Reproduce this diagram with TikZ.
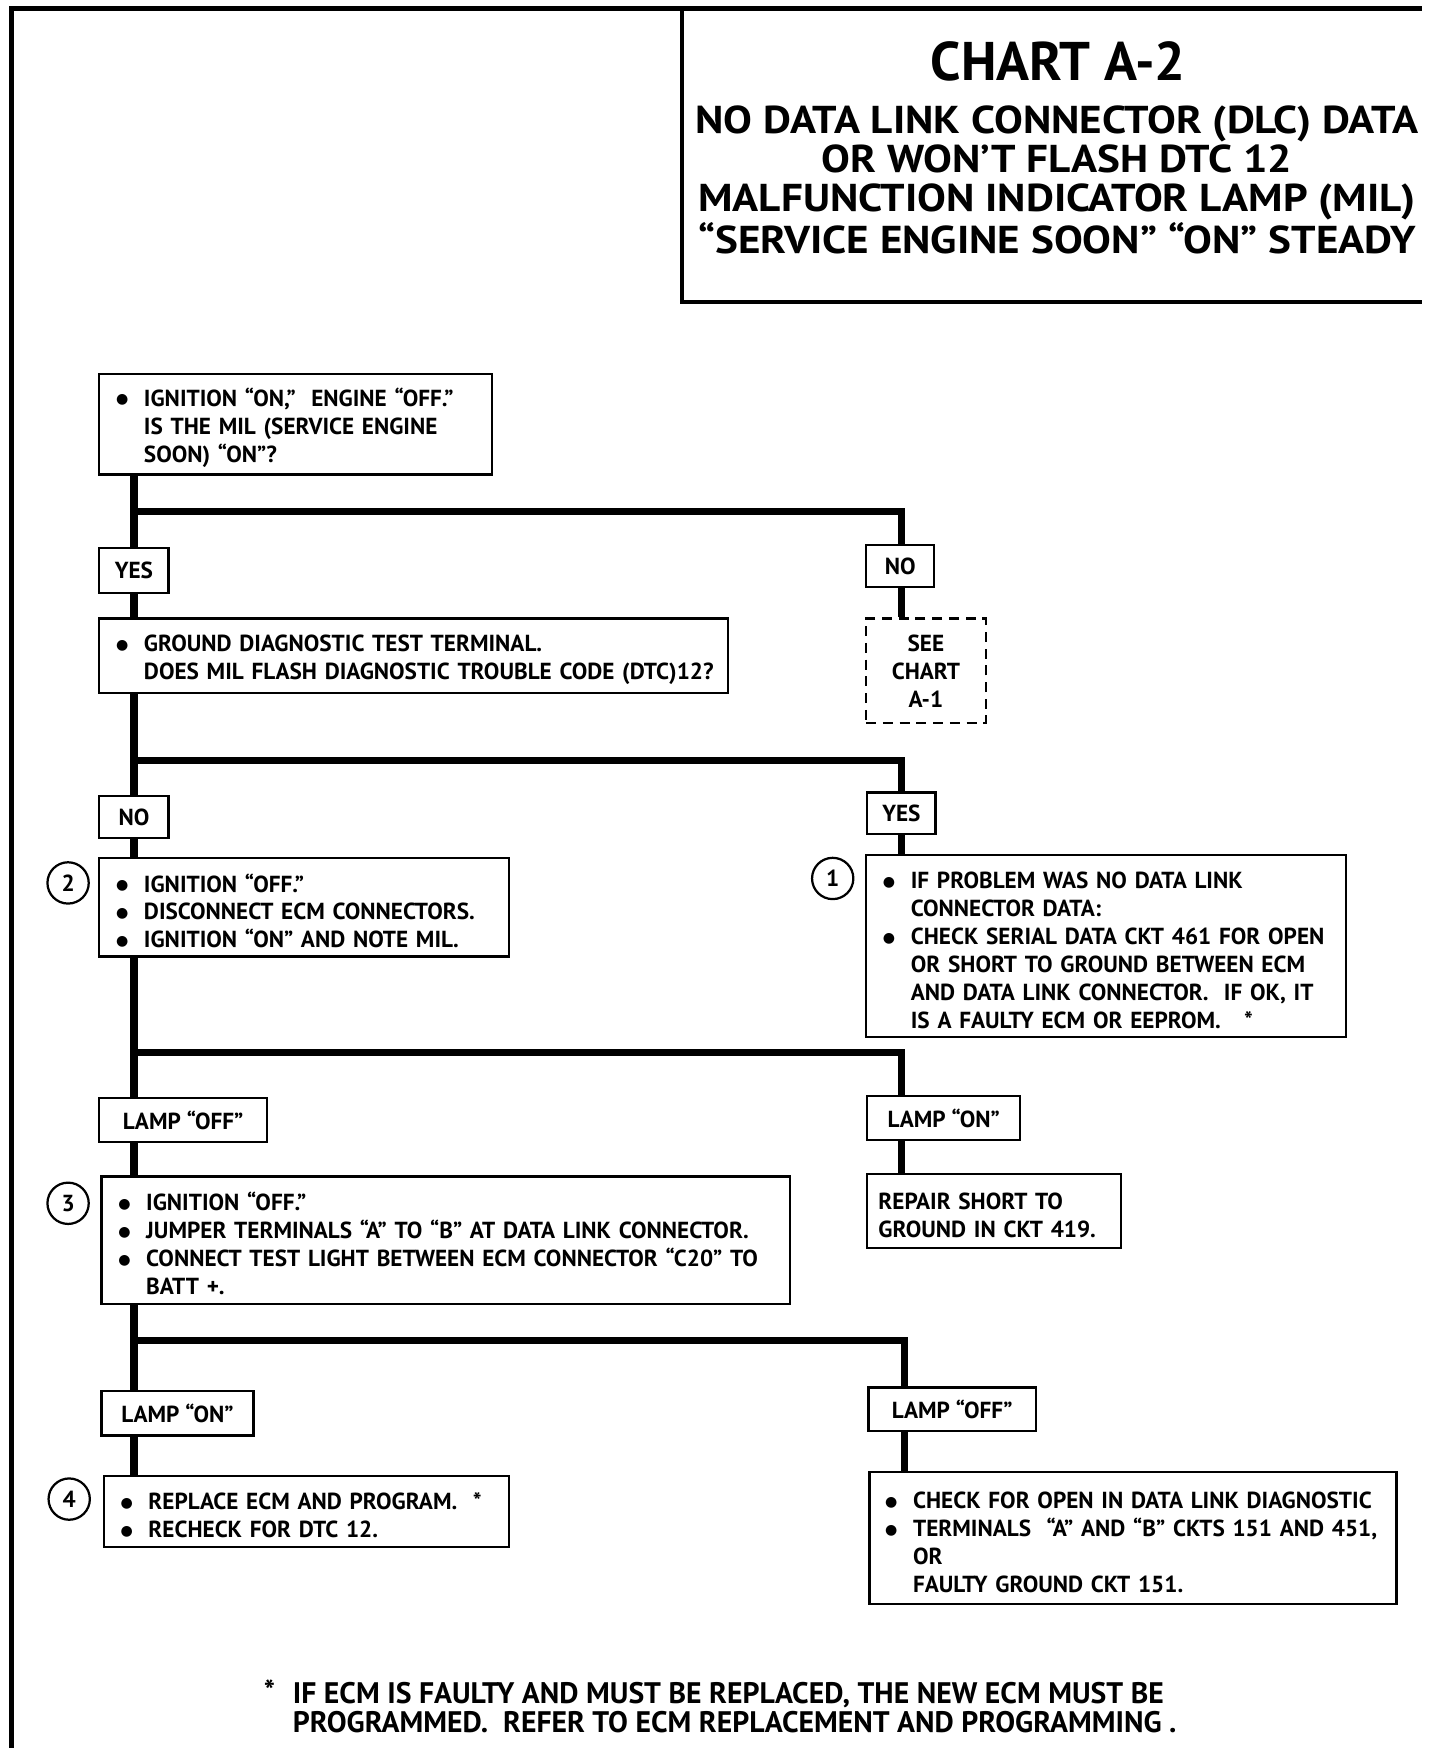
\documentclass[tikz,border=0pt]{standalone}
\usepackage{fontspec}
\setmainfont{PT Sans}
\newfontfamily\dvs{DejaVu Sans}
\usetikzlibrary{calc}
\newcommand\bu{\makebox[12.5pt][l]{\raisebox{1.1pt}{\dvs\fontsize{6.3}{6}\selectfont ●}}}
\newcommand\hind{\hspace*{12.5pt}}
\newcommand\tp{\rule{0pt}{11.3pt}}
\begin{document}
\begin{tikzpicture}[x=0.5pt,y=-0.5pt,
  bodyf/.style={font=\fontsize{10.4}{12.5}\selectfont\bfseries},
  stepbox/.style={draw, line width=1pt, anchor=north west, inner xsep=7.5pt, inner ysep=0pt, align=left, bodyf},
  lbl/.style={draw, line width=1pt, anchor=north west, inner sep=0pt, bodyf},
  num/.style={draw, circle, line width=1pt, minimum size=18.5pt, inner sep=0pt, bodyf},
  trunk/.style={line width=3.2pt},
  foot/.style={font=\fontsize{13.3}{13}\selectfont\bfseries, inner sep=0pt}
]
\useasboundingbox (0,0) rectangle (1290,1566);
% frame
\draw[line width=2.2pt] (10,1566) -- (10,8) -- (1274,8);
\draw[line width=1.8pt] (611,8) -- (611,271) -- (1274,271);
\node[font=\fontsize{24.4}{24}\selectfont\bfseries, inner sep=0pt] (title) at (948,55) {CHART A-2};
\node[font=\fontsize{17.4}{17.6}\selectfont\bfseries\addfontfeature{FakeStretch=1.11}, align=center, inner sep=0pt] (sub) at (947,161)
  {NO DATA LINK CONNECTOR (DLC) DATA\\OR WON’T FLASH DTC 12\\MALFUNCTION INDICATOR LAMP (MIL)\\“SERVICE ENGINE SOON” “ON” STEADY};

% boxes
\node[stepbox, text width=161pt, minimum height=45pt] (A) at (88,334)
  {\tp\bu IGNITION “ON,”\ \ ENGINE “OFF.”\\\hind IS THE MIL (SERVICE ENGINE\\\hind SOON) “ON”?};
\node[lbl, minimum width=31pt, minimum height=20pt] (Y1) at (88,490) {YES};
\node[lbl, minimum width=30.5pt, minimum height=19pt] (N1) at (775,487) {NO};
\node[draw, dash pattern=on 4.5pt off 3pt, line width=1pt, anchor=north west, minimum width=53.5pt, minimum height=47pt, align=center, inner sep=0pt, bodyf] (SEE) at (775,553) {SEE\\CHART\\A-1};
\node[stepbox, text width=266.5pt, minimum height=33.5pt] (B) at (88,553)
  {\tp\bu GROUND DIAGNOSTIC TEST TERMINAL.\\\hind\mbox{DOES MIL FLASH DIAGNOSTIC TROUBLE CODE (DTC)12?}};
\node[lbl, minimum width=31pt, minimum height=19pt] (N2) at (88,712) {NO};
\node[lbl, minimum width=30.5pt, minimum height=18.5pt] (Y2) at (776,709) {YES};
\node[stepbox, text width=168.5pt, minimum height=44pt] (C) at (88,768)
  {\tp\bu IGNITION “OFF.”\\\bu DISCONNECT ECM CONNECTORS.\\\bu IGNITION “ON” AND NOTE MIL.};
\node[num] (n2) at (61,791) {2};
\node[stepbox, text width=200pt, minimum height=81.5pt] (D) at (775,765)
  {\tp\bu IF PROBLEM WAS NO DATA LINK\\\hind CONNECTOR DATA:\\\bu \mbox{CHECK SERIAL DATA CKT 461 FOR OPEN}\\\hind OR SHORT TO GROUND BETWEEN ECM\\\hind AND DATA LINK CONNECTOR.\ \ IF OK, IT\\\hind IS A FAULTY ECM OR EEPROM.\quad *};
\node[num] (n1) at (746,787) {1};
\node[lbl, minimum width=75pt, minimum height=19.5pt] (LF1) at (88,983) {LAMP “OFF”};
\node[lbl, minimum width=68.5pt, minimum height=19.5pt] (LN1) at (776,981) {LAMP “ON”};
\node[stepbox, text width=293.5pt, minimum height=57pt] (E) at (90,1053)
  {\tp\bu IGNITION “OFF.”\\\bu \mbox{JUMPER TERMINALS “A” TO “B” AT DATA LINK CONNECTOR.}\\\bu \mbox{CONNECT TEST LIGHT BETWEEN ECM CONNECTOR “C20” TO}\\\hind BATT +.};
\node[num] (n3) at (61,1078) {3};
\node[stepbox, inner xsep=5pt, text width=103.5pt, minimum height=33pt] (F) at (776,1051)
  {\tp REPAIR SHORT TO\\GROUND IN CKT 419.};
\node[lbl, minimum width=68pt, minimum height=20pt] (LN2) at (90,1245) {LAMP “ON”};
\node[lbl, minimum width=75pt, minimum height=19.5pt] (LF2) at (777,1242) {LAMP “OFF”};
\node[stepbox, text width=166.5pt, minimum height=32pt] (G) at (92,1321)
  {\tp\bu REPLACE ECM AND PROGRAM.\ \ *\\\bu RECHECK FOR DTC 12.};
\node[num] (n4) at (62,1343) {4};
\node[stepbox, inner xsep=7pt, text width=222pt, minimum height=59pt] (H) at (778,1318)
  {\tp\bu \mbox{CHECK FOR OPEN IN DATA LINK DIAGNOSTIC}\\\bu \mbox{TERMINALS\ \ “A” AND “B” CKTS 151 AND 451,}\\\hind OR\\\hind FAULTY GROUND CKT 151.};

% junctions
\coordinate (j1) at (120,458); \coordinate (k1) at (808,458);
\coordinate (j2) at (120,681); \coordinate (k2) at (808,681);
\coordinate (j3) at (120,943); \coordinate (k3) at (808,943);
\coordinate (j4) at (120,1201); \coordinate (k4) at (810,1201);

\draw[trunk] (A.south -| j1) -- (Y1.north -| j1);
\draw[trunk] (j1) -- (k1) -- (N1.north -| k1);
\draw[trunk] (Y1.south -| j1) -- (B.north -| j1);
\draw[trunk] (N1.south -| k1) -- (SEE.north -| k1);
\draw[trunk] (B.south -| j2) -- (N2.north -| j2);
\draw[trunk] (j2) -- (k2) -- (Y2.north -| k2);
\draw[trunk] (N2.south -| j2) -- (C.north -| j2);
\draw[trunk] (Y2.south -| k2) -- (D.north -| k2);
\draw[trunk] (C.south -| j3) -- (LF1.north -| j3);
\draw[trunk] (j3) -- (k3) -- (LN1.north -| k3);
\draw[trunk] (LF1.south -| j3) -- (E.north -| j3);
\draw[trunk] (LN1.south -| k3) -- (F.north -| k3);
\draw[trunk] (E.south -| j4) -- (LN2.north -| j4);
\draw[trunk] (j4) -- (k4) -- (LF2.north -| k4);
\draw[trunk] (LN2.south -| j4) -- (G.north -| j4);
\draw[trunk] (LF2.south -| k4) -- (H.north -| k4);

% footnote
\node[foot, anchor=base west] (star) at (236,1524) {*};
\node[foot, anchor=base west] (f1) at (262,1526) {IF ECM IS FAULTY AND MUST BE REPLACED, THE NEW ECM MUST BE};
\node[foot, anchor=base west] (f2) at (262,1552) {PROGRAMMED.\ \ REFER TO ECM REPLACEMENT AND PROGRAMMING .};
\end{tikzpicture}
\end{document}
